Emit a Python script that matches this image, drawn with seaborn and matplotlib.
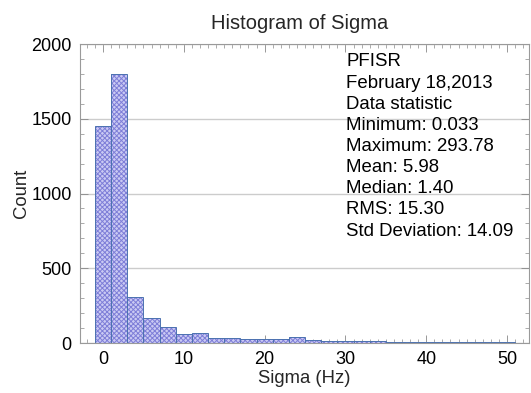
import numpy as np
import matplotlib
matplotlib.use("Agg")
import matplotlib.pyplot as plt
from matplotlib.ticker import MultipleLocator
import seaborn as sns

# Histogram bins (width 2 Hz, centred on even values)
bin_edges = [-1, 1, 3, 5, 7, 9, 11, 13, 15, 17, 19, 21, 23, 25, 27, 29, 31, 33,
             35, 37, 39, 41, 43, 45, 47, 49, 51]
bin_centers = [0, 2, 4, 6, 8, 10, 12, 14, 16, 18, 20, 22, 24, 26, 28, 30, 32,
               34, 36, 38, 40, 42, 44, 46, 48, 50]
counts = [1450, 1800, 305, 170, 105, 58, 68, 35, 33, 30, 30, 28, 38, 20, 12,
          12, 11, 12, 10, 10, 9, 10, 9, 8, 5, 4]

stats_lines = ["PFISR", "February 18,2013", "Data statistic",
               "Minimum: 0.033", "Maximum: 293.78", "Mean: 5.98",
               "Median: 1.40", "RMS: 15.30", "Std Deviation: 14.09"]

sns.set_theme(style="white")
plt.rcParams["font.family"] = ["Liberation Sans", "DejaVu Sans"]
plt.rcParams["hatch.linewidth"] = 0.7

fig = plt.figure(figsize=(5.31, 3.93), dpi=100)
ax = fig.add_axes([0.1507, 0.1272, 0.8453, 0.7608])

# hatched fill
sns.histplot(x=bin_centers, weights=counts, bins=bin_edges, ax=ax,
             stat="count", facecolor="#cacaf3", edgecolor="#7e7ed8",
             hatch="xxxxxxx", linewidth=0, alpha=1)
# bar outlines
sns.histplot(x=bin_centers, weights=counts, bins=bin_edges, ax=ax,
             stat="count", fill=False, edgecolor="#34345a", linewidth=0.7)

ax.set_xlim(-2.85, 52.7)
ax.set_ylim(0, 2000)
ax.set_yticks([0, 500, 1000, 1500, 2000])
ax.set_xticks([0, 10, 20, 30, 40, 50])
ax.xaxis.set_minor_locator(MultipleLocator(1))
ax.yaxis.set_minor_locator(MultipleLocator(100))
ax.tick_params(which="both", direction="in", top=True, right=True,
               bottom=True, left=True, colors="#888888", labelcolor="black",
               labelsize=13, pad=6)
ax.tick_params(which="major", length=6, width=0.6)
ax.tick_params(which="minor", length=3, width=0.5)

ax.grid(axis="y", which="major", color="#cccccc", linewidth=1.0)
ax.set_axisbelow(True)
for s in ax.spines.values():
    s.set_color("#9a9a9a")
    s.set_linewidth(0.8)

ax.set_title("Histogram of Sigma", fontsize=14.5, pad=11, x=0.49)
ax.set_xlabel("Sigma (Hz)", fontsize=13.3, labelpad=1)
ax.set_ylabel("Count", fontsize=13.3, labelpad=1)

# statistics block
y0 = 0.94
dy = 0.0707
for i, line in enumerate(stats_lines):
    ax.text(0.593, y0 - i * dy, line, transform=ax.transAxes, fontsize=13.4,
            va="center", ha="left", color="black")

fig.savefig("out.png", dpi=100)
